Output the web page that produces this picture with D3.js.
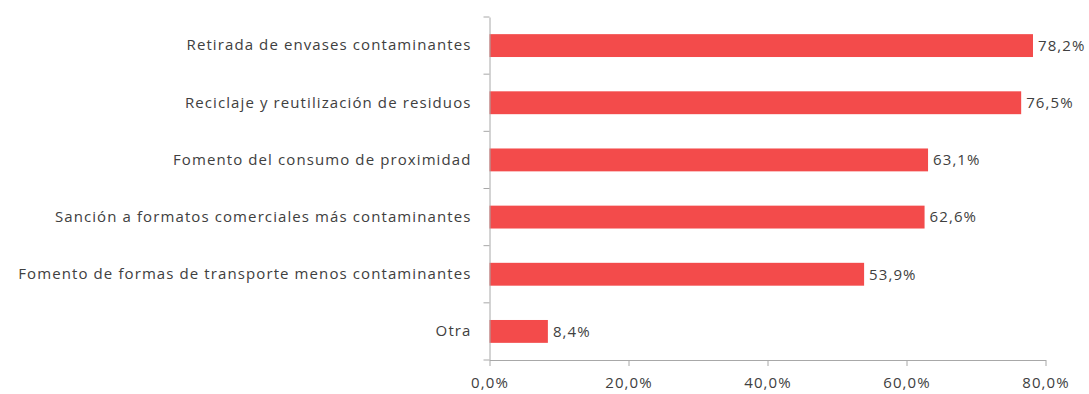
<!DOCTYPE html>
<html><head><meta charset="utf-8">
<script src="https://cdn.jsdelivr.net/npm/d3@7"></script>
<style>body{margin:0;background:#fff}svg{display:block}</style>
</head><body>
<script>
const categories = [
  "Retirada de envases contaminantes",
  "Reciclaje y reutilización de residuos",
  "Fomento del consumo de proximidad",
  "Sanción a formatos comerciales más contaminantes",
  "Fomento de formas de transporte menos contaminantes",
  "Otra"
];
const values = [78.2, 76.5, 63.1, 62.6, 53.9, 8.4];
const valueLabels = ["78,2%", "76,5%", "63,1%", "62,6%", "53,9%", "8,4%"];
const tickValues = [0, 20, 40, 60, 80];
const tickLabels = ["0,0%", "20,0%", "40,0%", "60,0%", "80,0%"];

const W = 1089, H = 394;
const svg = d3.select("body").append("svg").attr("width", W).attr("height", H);
const font = "'Open Sans', sans-serif";
const textColor = "#404040";
const axisColor = "#a8a8a8";

const x = d3.scaleLinear().domain([0, 80]).range([489.5, 1045.5]);
const y = d3.scaleBand().domain(categories).range([17, 360]).paddingInner(0.6).paddingOuter(0.3);

// bars
svg.selectAll("rect.bar").data(values).join("rect")
  .attr("class", "bar")
  .attr("x", x(0))
  .attr("y", (d, i) => y(categories[i]))
  .attr("width", d => x(d) - x(0))
  .attr("height", y.bandwidth())
  .attr("fill", "#f34b4b");

// value labels
svg.selectAll("text.val").data(values).join("text")
  .attr("class", "val")
  .attr("x", d => x(d) + 5)
  .attr("y", (d, i) => y(categories[i]) + y.bandwidth() / 2)
  .attr("dy", "0.35em")
  .attr("font-family", font).attr("font-size", 15).attr("letter-spacing", "1.1px")
  .attr("fill", textColor)
  .text((d, i) => valueLabels[i]);

// y axis (category)
const yAxis = d3.axisLeft(y).tickSize(0).tickPadding(18);
const gy = svg.append("g").attr("transform", `translate(${x(0)},0)`).call(yAxis);
gy.select(".domain").attr("stroke", axisColor);
gy.selectAll("text").attr("font-family", font).attr("font-size", 15)
  .attr("letter-spacing", "1.1px").attr("fill", textColor);
// category separator ticks
const step = y.step();
const sepYs = d3.range(categories.length + 1).map(i => y.range()[0] + i * step);
svg.selectAll("line.sep").data(sepYs).join("line")
  .attr("class", "sep")
  .attr("x1", x(0) - 6).attr("x2", x(0))
  .attr("y1", d => d).attr("y2", d => d)
  .attr("stroke", axisColor);

// x axis
const xAxis = d3.axisBottom(x).tickValues(tickValues)
  .tickFormat((d, i) => tickLabels[i]).tickSize(6).tickSizeOuter(0).tickPadding(11);
const gx = svg.append("g").attr("transform", "translate(0,360)").call(xAxis);
gx.select(".domain").attr("stroke", axisColor);
gx.selectAll(".tick line").attr("stroke", axisColor);
gx.selectAll("text").attr("font-family", font).attr("font-size", 15)
  .attr("letter-spacing", "1.1px").attr("fill", textColor);
</script>
</body></html>
